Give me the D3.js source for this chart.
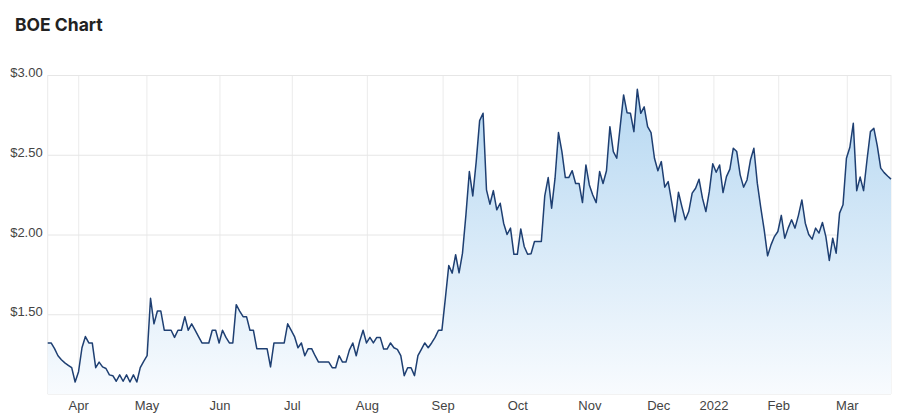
<!DOCTYPE html>
<html>
<head>
<meta charset="utf-8">
<script src="https://cdn.jsdelivr.net/npm/d3@7"></script>
<style>
  html, body { margin: 0; padding: 0; background: #ffffff; }
  svg { display: block; }
</style>
</head>
<body>
<svg id="chart" width="905" height="420"></svg>
<script>
// ---- data (BOE daily close, Mar 2021 – Mar 2022, trading-day order) ----
const prices = [
  1.32, 1.32, 1.284, 1.24, 1.215, 1.195, 1.18, 1.165, 1.075, 1.14,
  1.29, 1.36, 1.32, 1.32, 1.165, 1.20, 1.17, 1.16, 1.12, 1.115,
  1.08, 1.12, 1.08, 1.12, 1.075, 1.12, 1.075, 1.165, 1.205, 1.24,
  1.60, 1.44, 1.52, 1.52, 1.40, 1.40, 1.40, 1.355, 1.40, 1.40,
  1.485, 1.40, 1.44, 1.40, 1.36, 1.32, 1.32, 1.32,
  1.40, 1.40, 1.32, 1.40, 1.355, 1.32, 1.32, 1.56, 1.52, 1.485,
  1.485, 1.40, 1.40, 1.284, 1.284, 1.284, 1.284, 1.17, 1.32, 1.32,
  1.32, 1.32, 1.44, 1.40, 1.36, 1.29, 1.32, 1.24, 1.284, 1.284,
  1.24, 1.20, 1.20, 1.20, 1.20, 1.165, 1.165, 1.24, 1.20, 1.20,
  1.275, 1.32, 1.24, 1.33, 1.40, 1.32, 1.355,
  1.32, 1.355, 1.355, 1.282, 1.282, 1.32, 1.29, 1.28, 1.24, 1.115,
  1.165, 1.165, 1.115, 1.24, 1.28, 1.32, 1.29, 1.32, 1.355, 1.40,
  1.40, 1.60, 1.806, 1.758, 1.873, 1.76, 1.883, 2.123, 2.395, 2.242,
  2.457, 2.714, 2.76, 2.28, 2.19, 2.275, 2.155, 2.196, 2.071, 2.00,
  2.04, 1.876, 1.876, 2.035, 1.925, 1.876, 1.879, 1.956, 1.956, 1.956,
  2.242, 2.357, 2.165, 2.353, 2.639, 2.52, 2.357, 2.357, 2.40, 2.32,
  2.32, 2.20, 2.436, 2.311, 2.248, 2.20, 2.395, 2.32, 2.40, 2.676,
  2.52, 2.478, 2.676, 2.875, 2.764, 2.76, 2.645, 2.91, 2.76, 2.80,
  2.676, 2.639, 2.478, 2.40, 2.457, 2.297, 2.332, 2.207, 2.08, 2.265,
  2.175, 2.092, 2.144, 2.259, 2.29, 2.347, 2.228, 2.144, 2.27, 2.443,
  2.39, 2.436, 2.263, 2.363, 2.41, 2.541, 2.52, 2.374, 2.297, 2.342,
  2.467, 2.541, 2.322, 2.17, 2.03, 1.866, 1.935, 1.987, 2.019, 2.12,
  1.977, 2.04, 2.092, 2.04, 2.12, 2.217, 2.071, 2.00, 1.971, 2.04,
  2.009, 2.075, 1.987, 1.837, 1.977, 1.883, 2.134, 2.186, 2.478, 2.547,
  2.697, 2.275, 2.36, 2.275, 2.467, 2.645, 2.666, 2.555, 2.416, 2.388,
  2.367, 2.347
];

// month boundaries expressed as (fractional) trading-day index
const monthLabels = ["Apr", "May", "Jun", "Jul", "Aug", "Sep", "Oct", "Nov", "Dec", "2022", "Feb", "Mar"];
const monthIndex  = [8.9, 28.8, 50.1, 71.2, 93.1, 115.2, 137.0, 158.0, 178.1, 194.2, 213.1, 233.1];

const yTicks = [1.5, 2.0, 2.5, 3.0];
const yTickLabels = ["$1.50", "$2.00", "$2.50", "$3.00"];
const yDomain = [1.0, 3.0];

const chartTitle = "BOE Chart";

// ---- layout ----
const svg = d3.select("#chart");
const pL = 47.7, pR = 891, pT = 75, pB = 394;

const x = d3.scaleLinear().domain([0, prices.length - 1]).range([pL, pR]);
const y = d3.scaleLinear().domain(yDomain).range([pB, pT]);

// title
svg.append("text")
  .attr("x", 15).attr("y", 31)
  .attr("font-family", "Inter, 'Noto Sans', sans-serif")
  .attr("font-weight", 700)
  .attr("font-size", 17.5)
  .attr("fill", "#222")
  .text(chartTitle);

// gradient
const defs = svg.append("defs");
const grad = defs.append("linearGradient")
  .attr("id", "areaGrad")
  .attr("gradientUnits", "userSpaceOnUse")
  .attr("x1", 0).attr("x2", 0)
  .attr("y1", pT).attr("y2", pB);
grad.append("stop").attr("offset", "0%").attr("stop-color", "#b3d6f1");
grad.append("stop").attr("offset", "100%").attr("stop-color", "#f8fbfe");

// vertical grid (month ticks) + x labels
const xAxis = d3.axisBottom(x)
  .tickValues(monthIndex)
  .tickFormat((d, i) => monthLabels[i])
  .tickSize(-(pB - pT))
  .tickSizeOuter(0);
const gx = svg.append("g")
  .attr("transform", `translate(0,${pB})`)
  .call(xAxis);
gx.select(".domain").remove();
gx.selectAll(".tick line").attr("stroke", "#ebebeb").attr("stroke-width", 1);
gx.selectAll(".tick text")
  .attr("font-family", "'Liberation Sans', Arial, sans-serif")
  .attr("font-size", 13)
  .attr("fill", "#444")
  .attr("dy", 0)
  .attr("y", 15.5);

// horizontal grid + y labels
const yAxis = d3.axisLeft(y)
  .tickValues(yTicks)
  .tickFormat((d, i) => yTickLabels[i])
  .tickSize(-(pR - pL))
  .tickSizeOuter(0);
const gy = svg.append("g")
  .attr("transform", `translate(${pL},0)`)
  .call(yAxis);
gy.select(".domain").remove();
gy.selectAll(".tick line").attr("stroke", "#e6e6e6").attr("stroke-width", 1);
gy.selectAll(".tick text")
  .attr("font-family", "'Liberation Sans', Arial, sans-serif")
  .attr("font-size", 13)
  .attr("fill", "#444")
  .attr("x", -5)
  .attr("dy", 0)
  .attr("y", 1.5);

// plot frame lines (left, right, bottom)
svg.append("line").attr("x1", pL).attr("x2", pL).attr("y1", pT).attr("y2", pB)
  .attr("stroke", "#ebebeb");
svg.append("line").attr("x1", pR).attr("x2", pR).attr("y1", pT).attr("y2", pB)
  .attr("stroke", "#ebebeb");
svg.append("line").attr("x1", pL).attr("x2", pR).attr("y1", pB).attr("y2", pB)
  .attr("stroke", "#e6e6e6");

// area
const area = d3.area()
  .x((d, i) => x(i))
  .y0(y(yDomain[0]))
  .y1(d => y(d));
svg.append("path")
  .datum(prices)
  .attr("d", area)
  .attr("fill", "url(#areaGrad)");

// line
const line = d3.line()
  .x((d, i) => x(i))
  .y(d => y(d));
svg.append("path")
  .datum(prices)
  .attr("d", line)
  .attr("fill", "none")
  .attr("stroke", "#1e3f72")
  .attr("stroke-width", 1.5)
  .attr("stroke-linejoin", "round");
</script>
</body>
</html>
